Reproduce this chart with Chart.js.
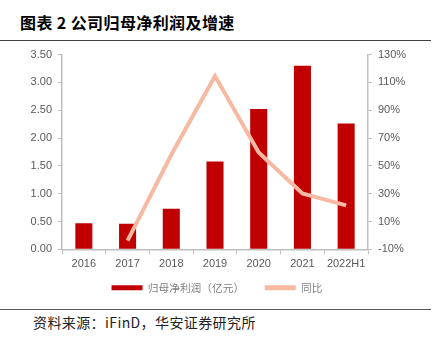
<!DOCTYPE html>
<html>
<head>
<meta charset="utf-8">
<script src="https://cdn.jsdelivr.net/npm/chart.js@4/dist/chart.umd.min.js"></script>
<style>
  html, body { margin: 0; padding: 0; background: #fff; }
  body { width: 434px; height: 343px; position: relative; overflow: hidden; }
  #title { position: absolute; left: 20px; top: 10px; font-family: "Noto Sans CJK SC", sans-serif; font-weight: bold; font-size: 16px; letter-spacing: 0.4px; color: #000; line-height: 24px; white-space: nowrap; }
  #rule1 { position: absolute; left: 0; top: 40px; width: 431px; height: 0; border-top: 1.5px solid #404040; }
  #wrap { position: absolute; left: 0; top: 42px; width: 434px; height: 261px; }
  #rule2 { position: absolute; left: 0; top: 309px; width: 431px; height: 0; border-top: 1px solid #595959; }
  #source { position: absolute; left: 33px; top: 312px; font-family: "Noto Sans CJK SC", sans-serif; font-size: 14px; letter-spacing: 0.4px; color: #222; line-height: 20px; white-space: nowrap; }
</style>
</head>
<body>
<div id="title">图表 2 公司归母净利润及增速</div>
<div id="rule1"></div>
<div id="rule2"></div>
<div id="source">资料来源：iFinD，华安证券研究所</div>
<div id="wrap"><canvas id="c" width="434" height="261"></canvas></div>
<script>
const categories = ["2016", "2017", "2018", "2019", "2020", "2021", "2022H1"];
const profit = [0.47, 0.46, 0.73, 1.58, 2.52, 3.30, 2.26];
const growth = [null, -3.8, 58, 114.6, 59.6, 30.2, 21.6];
const seriesNames = ["归母净利润（亿元）", "同比"];

const axisColor = "#bfbfbf";
const tickColor = "#595959";
const tickFont = { family: "'Liberation Sans', Arial, sans-serif", size: 11 };

new Chart(document.getElementById("c"), {
  type: "bar",
  data: {
    labels: categories,
    datasets: [
      {
        type: "bar",
        label: seriesNames[0],
        data: profit,
        backgroundColor: "#C00000",
        borderWidth: 0,
        barPercentage: 0.39,
        categoryPercentage: 1,
        yAxisID: "y",
        order: 2
      },
      {
        type: "line",
        label: seriesNames[1],
        data: growth,
        borderColor: "#F7B9A1",
        backgroundColor: "#F7B9A1",
        borderWidth: 4,
        pointRadius: 0,
        tension: 0,
        spanGaps: false,
        yAxisID: "y1",
        order: 1
      }
    ]
  },
  options: {
    responsive: false,
    animation: false,
    layout: { padding: { top: 10, left: 0, right: 0, bottom: 0 } },
    plugins: {
      tooltip: { enabled: false },
      legend: {
        position: "bottom",
        labels: {
          boxWidth: 31,
          boxHeight: 5,
          padding: 10,
          color: "#7f7f7f",
          font: { family: "'Noto Sans CJK SC', sans-serif", size: 10.7 },
          generateLabels(chart) {
            return chart.data.datasets.map((ds, i) => ({
              text: i === 0 ? ds.label + "\u2003" : ds.label,
              fillStyle: i === 0 ? "#C00000" : "#F7B9A1",
              strokeStyle: i === 0 ? "#C00000" : "#F7B9A1",
              lineWidth: 0,
              fontColor: "#7f7f7f",
              hidden: false,
              datasetIndex: i
            }));
          }
        }
      }
    },
    scales: {
      x: {
        offset: true,
        grid: { display: true, drawOnChartArea: false, drawTicks: true, tickLength: 5, color: axisColor, offset: true },
        border: { display: true, color: axisColor, width: 1.5 },
        ticks: { color: tickColor, font: tickFont, padding: 3, maxRotation: 0, autoSkip: false },
        afterFit(scale) { scale.height = 23; }
      },
      y: {
        position: "left",
        min: 0,
        max: 3.5,
        grid: { display: true, drawOnChartArea: false, drawTicks: true, tickLength: 4, color: axisColor },
        border: { display: true, color: axisColor, width: 1.5 },
        ticks: { stepSize: 0.5, color: tickColor, font: tickFont, padding: 6, callback: v => Number(v).toFixed(2) },
        afterFit(scale) { scale.width = 62; }
      },
      y1: {
        position: "right",
        min: -10,
        max: 130,
        grid: { display: true, drawOnChartArea: false, drawTicks: true, tickLength: 4, color: axisColor },
        border: { display: true, color: axisColor, width: 1.5 },
        ticks: { stepSize: 20, color: tickColor, font: tickFont, padding: 6, callback: v => v + "%" },
        afterFit(scale) { scale.width = 66; }
      }
    }
  }
});
</script>
</body>
</html>
